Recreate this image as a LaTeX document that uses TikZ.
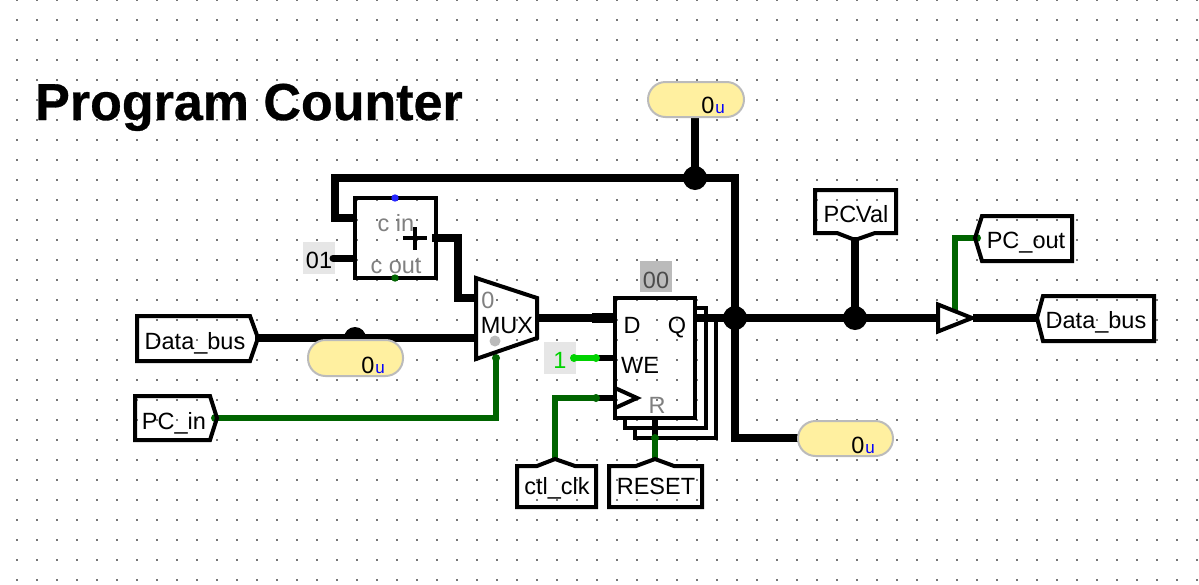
\documentclass[tikz,border=0pt]{standalone}
\usepackage{fontspec}
\setmainfont{Liberation Sans}
\newfontfamily\heavyfont[BoldFeatures={FakeBold=0.6}]{Liberation Sans}
\definecolor{dotgray}{HTML}{777777}
\definecolor{darkgreenw}{HTML}{006400}
\definecolor{brightg}{HTML}{00D200}
\definecolor{pillfill}{HTML}{FFF0A0}
\definecolor{pillline}{HTML}{BBBBBB}
\definecolor{consbox}{HTML}{E6E6E6}
\definecolor{regbox}{HTML}{BBBBBB}
\definecolor{faint}{HTML}{808080}
\tikzset{
 outline/.style={draw=black,line width=4pt,line join=miter},
 bus/.style={draw=black,line width=8pt,line join=miter,line cap=butt},
 wirek/.style={draw=black,line width=6pt,line join=miter},
 wireg/.style={draw=darkgreenw,line width=6.5pt,line join=miter},
 wireb/.style={draw=brightg,line width=6pt},
 txt/.style={inner sep=0pt,anchor=base,font=\fontsize{23.5}{28}\selectfont},
 graytxt/.style={txt,text=faint},
 title/.style={inner sep=0pt,anchor=base west,font=\fontsize{52}{60}\selectfont\heavyfont\bfseries},
 pill/.style={draw=pillline,fill=pillfill,line width=2pt,rounded corners=17.5pt},
 consrect/.style={fill=consbox,draw=none},
 junction/.style={circle,fill=black,draw=none,inner sep=0pt,minimum size=#1},
 unit/.style={font=\fontsize{17}{20}\selectfont,text=blue,inner sep=0pt,anchor=base},
}
\begin{document}
\begin{tikzpicture}[x=1pt,y=-1pt]
\useasboundingbox (0,0) rectangle (1199,584);
\fill[white] (0,0) rectangle (1199,584);
% grid
\foreach \gx in {0,...,59}{\foreach \gy in {0,...,29}{
  \fill[dotgray] ({16+20*\gx},{-1+20*\gy}) rectangle +(2.2,2.2);
}}
\node[title] (ttl) at (35,120) {Program Counter};

% named pins
\coordinate (pTop) at (695,117);
\coordinate (jTop) at (695,178);
\coordinate (cornerL) at (335,178);
\coordinate (cornerR) at (735,178);
\coordinate (aIn) at (357,218);
\coordinate (aConst) at (357,258);
\coordinate (constR) at (333,258);
\coordinate (aOut) at (432,238);
\coordinate (mA) at (478,298);
\coordinate (mB) at (478,338);
\coordinate (mOut) at (536,318);
\coordinate (mSel) at (496,358);
\coordinate (dPin) at (614,318);
\coordinate (dStub) at (592,318);
\coordinate (qPin) at (695,318);
\coordinate (jQ) at (735,318);
\coordinate (jV) at (855,318);
\coordinate (bufIn) at (938,318);
\coordinate (bufOut) at (973,318);
\coordinate (bufEn) at (955,311);
\coordinate (tBusL) at (255,338);
\coordinate (tPCin) at (215,418);
\coordinate (tDataR) at (1037,318);
\coordinate (tPCout) at (977,238);
\coordinate (tPCval) at (855,237);
\coordinate (tClk) at (555,461);
\coordinate (tRst) at (655,461);
\coordinate (rBot) at (655,418);
\coordinate (rGreen) at (655,438);
\coordinate (pBot) at (798,438);
\coordinate (wePin) at (615,358);
\coordinate (weStub) at (596,358);
\coordinate (oneR) at (574,358);
\coordinate (ckPin) at (615,398);
\coordinate (ckStub) at (596,398);
\coordinate (jB) at (355,338);

% register copies
\draw[outline,line width=3.5pt] (695,308) -- (706,308) -- (706,428) -- (625,428) -- (625,418);
\draw[outline,line width=3.5pt] (706,318) -- (716,318) -- (716,438) -- (635,438) -- (635,428);

% wires
\draw[bus] (pTop) -- (jTop);
\draw[bus] (aIn) -| (cornerL) -- (cornerR) -- (cornerR |- pBot) -- (pBot);
\draw[wirek,line width=7pt] (constR) -- (aConst);
\draw[bus] (aOut) -- (458,238) -- (458,298) -- (mA);
\draw[bus] (tBusL) -- (mB);
\draw[bus] (mOut) -- (dPin);
\draw[bus,line width=10pt] (dStub) -- (dPin);
\draw[bus] (qPin) -- (bufIn);
\draw[bus] (bufOut) -- (tDataR);
\draw[bus] (jV) -- (tPCval);
\draw[wireg] (tPCin) -- (mSel |- tPCin) -- (mSel);
\draw[wireg] (bufEn) -- (bufEn |- tPCout) -- (tPCout);
\draw[wireg] (tClk) |- (ckStub);
\draw[wirek] (ckStub) -- (ckPin);
\draw[wirek] (weStub) -- (wePin);
\draw[wireb] (oneR) -- (weStub);
\draw[wirek] (rBot) -- (rGreen);
\draw[wireg] (rGreen) -- (tRst);

% pin dots
\fill[brightg] (weStub) circle (4);
\fill[darkgreenw] (ckStub) circle (4);
\fill[darkgreenw] (rGreen) circle (4);
\fill[darkgreenw] (tPCin) circle (4);
\fill[darkgreenw] (tPCout) circle (4);
\fill[darkgreenw] (mSel) circle (4);

% junctions
\node[junction=24pt] (jnTop) at (jTop) {};
\node[junction=24pt] (jnQ) at (jQ) {};
\node[junction=24pt] (jnV) at (jV) {};
\node[junction=22pt] (jnB) at (jB) {};

% adder
\draw[outline] (355,198) rectangle (436,278);
\fill[blue!85!white] (395,198) circle (3.7);
\fill[darkgreenw] (395,278) circle (3.7);
\node[graytxt] (cin) at (396,231) {c in};
\node[graytxt] (cout) at (396,273) {c out};
\draw[line width=4.5pt] (403,238) -- (427,238) (415,227) -- (415,250);
% constant
\node[consrect,minimum width=32pt,minimum height=32pt,inner sep=0pt] (kbox) at (319,258) {};
\node[txt] (k01) at (319,268) {01};
\draw[wirek,line width=7pt,line cap=round] (constR) -- ++(5,0);

% mux
\draw[outline] (476,278) -- (537,298) -- (537,338) -- (476,359) -- cycle;
\node[graytxt] (m0) at (488,308) {0};
\node[txt] (mlbl) at (507,333) {MUX};
\fill[regbox] (495,341) circle (5.5);

% register
\draw[outline] (615,298) rectangle (695,418);
\draw[outline] (615,388) -- (637,398) -- (615,408);
\node[txt] (dl) at (632,333) {D};
\node[txt] (ql) at (677,333) {Q};
\node[txt] (wl) at (640,373) {WE};
\node[graytxt] (rl) at (657,413) {R};
\node[fill=regbox,minimum width=32pt,minimum height=31pt,inner sep=0pt] (rbox) at (656,276.5) {};
\node[txt,text=black!70] (r00) at (656,288) {00};
\node[consrect,minimum width=32pt,minimum height=32pt,inner sep=0pt] (onebox) at (560,358) {};
\node[txt,text=brightg] (one) at (560,368) {1};
\fill[brightg] (oneR) circle (4);

% buffer
\draw[outline] (938,304.5) -- (972,318) -- (938,331.5) -- cycle;

% tags
\draw[outline] (137,316) -- (250,316) -- (258,338) -- (250,361) -- (137,361) -- cycle;
\node[txt] (tagBus) at (195,349) {Data\_bus};
\draw[outline] (135,396) -- (210,396) -- (217,418) -- (210,440) -- (135,440) -- cycle;
\node[txt] (tagIn) at (174,429) {PC\_in};
\draw[outline] (517,466) -- (537,466) -- (555,459) -- (575,466) -- (596,466) -- (596,507) -- (517,507) -- cycle;
\node[txt] (tagClk) at (557,494) {ctl\_clk};
\draw[outline] (609,466) -- (636,466) -- (655,459) -- (674,466) -- (702,466) -- (702,507) -- (609,507) -- cycle;
\node[txt] (tagRst) at (656,494) {RESET};
\draw[outline] (815,190) -- (896,190) -- (896,233) -- (875,233) -- (855,240) -- (837,233) -- (815,233) -- cycle;
\node[txt] (tagVal) at (856,222) {PCVal};
\draw[outline] (975,238) -- (982,216) -- (1072,216) -- (1072,261) -- (982,261) -- cycle;
\node[txt] (tagOut) at (1026,248) {PC\_out};
\draw[outline] (1037,318) -- (1043,296) -- (1154,296) -- (1154,341) -- (1043,341) -- cycle;
\node[txt] (tagBusR) at (1096,328) {Data\_bus};

% probes
\draw[pill] (648,82) rectangle (744,117);
\node[txt] (t0) at (708,113) {0};
\node[unit] (tu) at (720,113) {u};
\draw[pill] (308,340) rectangle (403,376);
\node[txt] (m0u) at (368,373) {0};
\node[unit] (mu) at (380,373) {u};
\draw[pill] (798,421) rectangle (893,456);
\node[txt] (b0) at (858,453) {0};
\node[unit] (bu) at (870,453) {u};
\end{tikzpicture}
\end{document}
